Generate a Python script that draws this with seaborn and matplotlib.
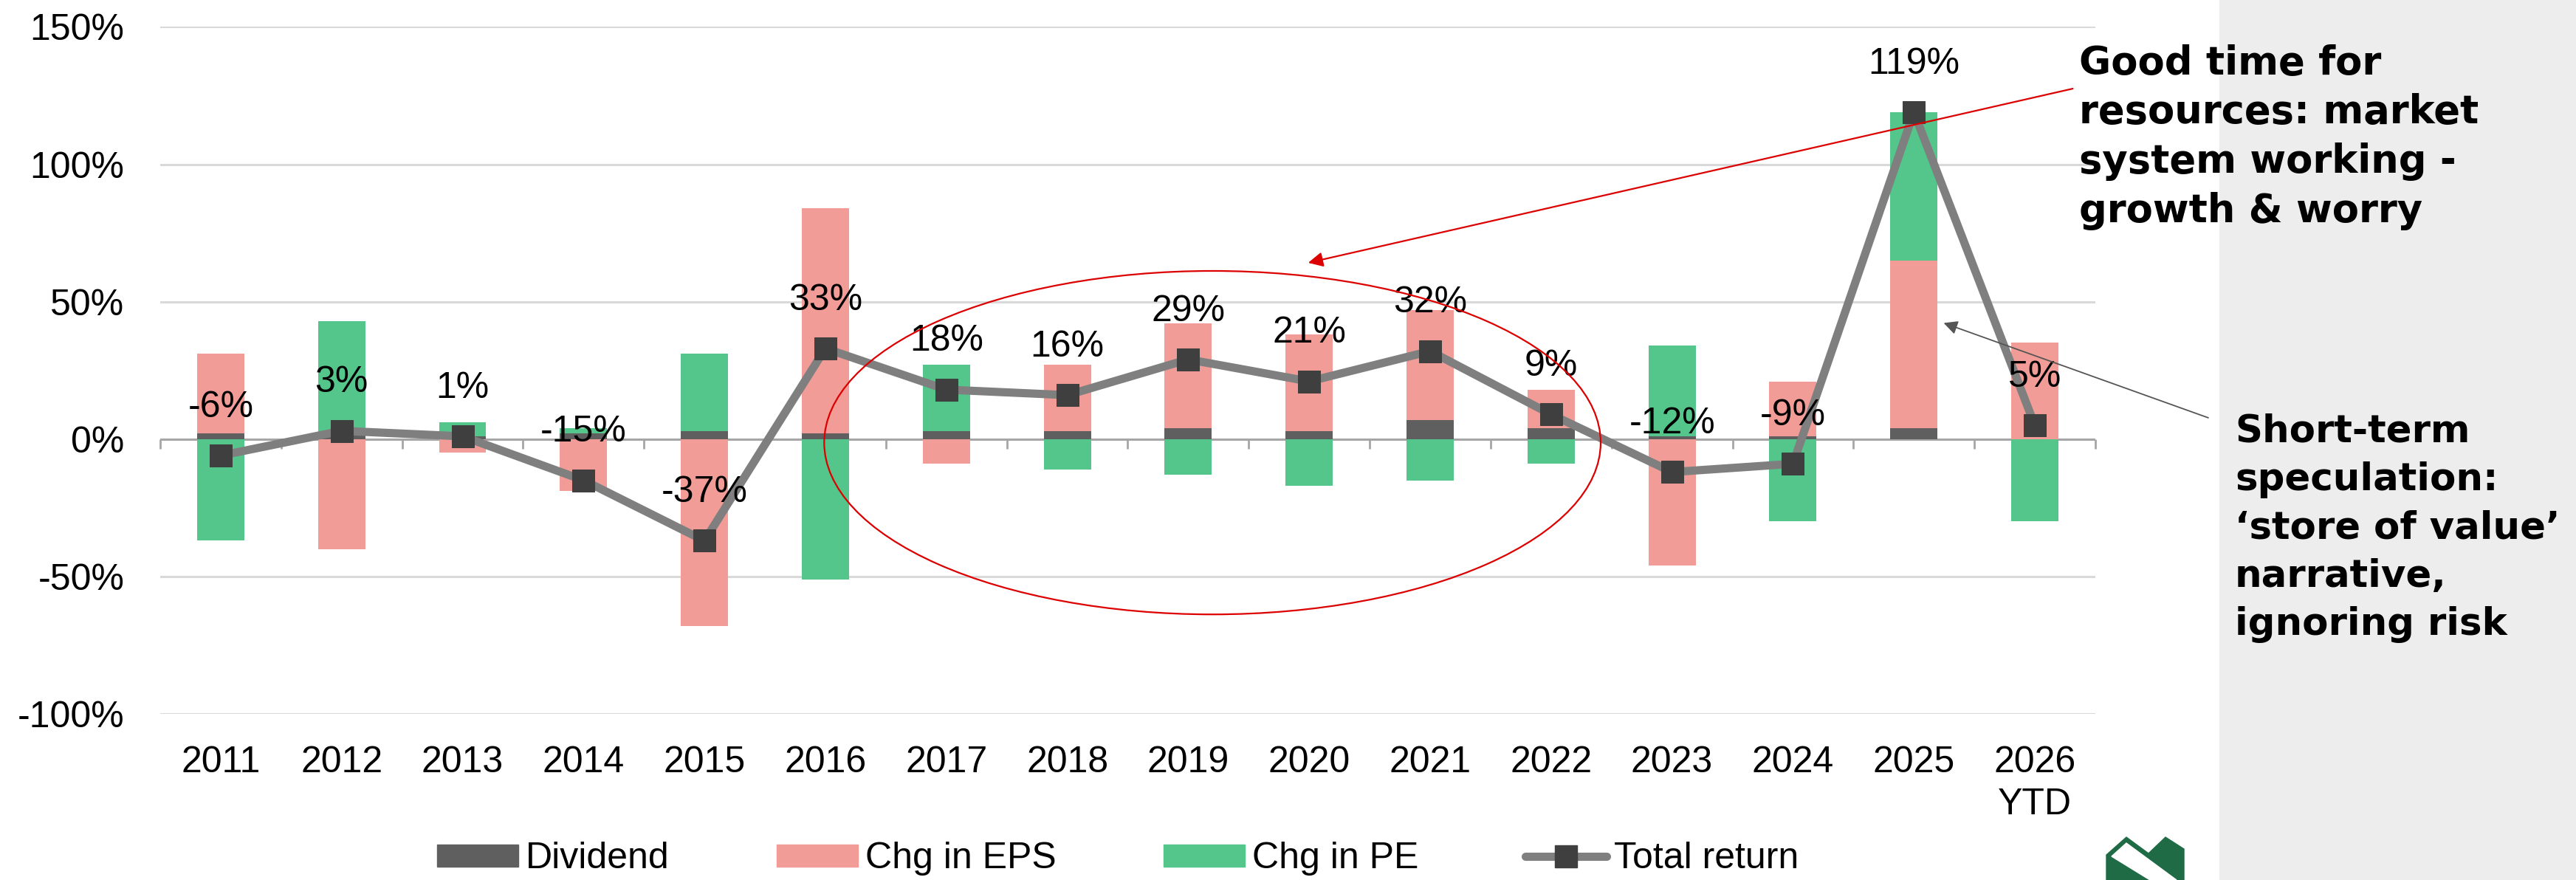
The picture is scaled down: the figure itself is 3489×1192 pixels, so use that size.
import numpy as np
import pandas as pd
import seaborn as sns
import matplotlib.pyplot as plt
from matplotlib.patches import Patch, Ellipse, Rectangle, Polygon
from matplotlib.lines import Line2D

# Data (percent)
years = ['2011', '2012', '2013', '2014', '2015', '2016', '2017', '2018',
         '2019', '2020', '2021', '2022', '2023', '2024', '2025', '2026\nYTD']
dividend = [2, 2, 1, 2, 3, 2, 3, 3, 4, 3, 7, 4, 1, 1, 4, 0]
chg_eps = [29, -40, -5, -19, -68, 82, -9, 24, 38, 35, 40, 14, -46, 20, 61, 35]
chg_pe = [-37, 41, 5, 2, 28, -51, 24, -11, -13, -17, -15, -9, 33, -30, 54, -30]
total_return = [-6, 3, 1, -15, -37, 33, 18, 16, 29, 21, 32, 9, -12, -9, 119, 5]
y_ticks = [-100, -50, 0, 50, 100, 150]

note_top = 'Good time for\nresources: market\nsystem working -\ngrowth & worry'
note_bottom = 'Short-term\nspeculation:\n\u2018store of value\u2019\nnarrative,\nignoring risk'

c_div = '#5f5f5f'
c_eps = '#f29c97'
c_pe = '#55c68b'
c_line = '#7f7f7f'
c_mark = '#3f3f3f'

sns.set_theme(style='white')
plt.rcParams['font.family'] = ['Liberation Sans', 'DejaVu Sans']
plt.rcParams['text.color'] = 'black'
plt.rcParams['xtick.labelcolor'] = 'black'
plt.rcParams['ytick.labelcolor'] = 'black'

df = pd.DataFrame({'year': years, 'Dividend': dividend, 'Chg in EPS': chg_eps,
                   'Chg in PE': chg_pe, 'Total return': total_return})
df['pos'] = np.arange(len(df))

fig = plt.figure(figsize=(34.89, 11.92), dpi=100)
# grey side panel
fig.patches.append(Rectangle((0.8616, 0), 0.1384, 1, transform=fig.transFigure,
                             color='#ededed', zorder=-10))
ax = fig.add_axes([0.0622, 0.1888, 0.7512, 0.7806])
ax.set_facecolor('none')

# stacked bars: positives stack up, negatives stack down
pos_base = np.zeros(len(df))
neg_base = np.zeros(len(df))
for col, colr in [('Dividend', c_div), ('Chg in EPS', c_eps), ('Chg in PE', c_pe)]:
    vals = df[col].to_numpy(dtype=float)
    base = np.where(vals >= 0, pos_base, neg_base)
    ax.bar(df['pos'], vals, bottom=base, width=0.39, color=colr, zorder=2, linewidth=0)
    pos_base = pos_base + np.clip(vals, 0, None)
    neg_base = neg_base + np.clip(vals, None, 0)

sns.lineplot(data=df, x='pos', y='Total return', ax=ax, color=c_line, linewidth=8,
             marker='s', markersize=22, markerfacecolor=c_mark, markeredgecolor=c_mark,
             zorder=4, legend=False)

for x, v in zip(df['pos'], df['Total return']):
    ax.annotate(f'{v}%', (x, v), xytext=(0, 47), textcoords='offset points',
                ha='center', va='center', fontsize=36, color='black', zorder=5)

# grid and zero axis
for t in y_ticks:
    if t != 0:
        ax.axhline(t, color='#d9d9d9', lw=2.2, zorder=0)
ax.axhline(0, color='#a6a6a6', lw=2.2, zorder=1)
ax.vlines(np.arange(-0.5, len(df), 1.0), -3.5, 0, color='#a6a6a6', lw=2, zorder=1,
          clip_on=False)

ax.set_xlim(-0.5, len(df) - 0.5)
ax.set_ylim(-100, 150)
ax.set_yticks(y_ticks)
ax.set_yticklabels([f'{t}%' for t in y_ticks])
ax.set_xticks(df['pos'])
ax.set_xticklabels(years, linespacing=1.3)
ax.tick_params(axis='y', length=0, pad=35, labelsize=36, labelcolor='black')
ax.tick_params(axis='x', length=0, pad=31, labelsize=36, labelcolor='black')
ax.set_xlabel('')
ax.set_ylabel('')
sns.despine(ax=ax, left=True, bottom=True)

# red circle + arrow, grey arrow
ax.add_patch(Ellipse((8.2, -1.3), 6.42, 125, fill=False, edgecolor='#dd0000',
                     lw=1.6, zorder=6, clip_on=False))
ax.annotate('', xy=(8.975, 64), xytext=(15.33, 127.7),
            arrowprops=dict(arrowstyle='-|>', color='#dd0000', lw=1.6,
                            mutation_scale=30), annotation_clip=False, zorder=6)
ax.annotate('', xy=(14.23, 42.5), xytext=(16.45, 7.5),
            arrowprops=dict(arrowstyle='-|>', color='#555555', lw=1.3,
                            mutation_scale=28), annotation_clip=False, zorder=6)

fig.text(0.8071, 0.950, note_top, ha='left', va='top', fontsize=38, color='black',
         fontweight='bold', family='DejaVu Sans', linespacing=1.36)
fig.text(0.8676, 0.531, note_bottom, ha='left', va='top', fontsize=37, color='black',
         fontweight='bold', family='DejaVu Sans', linespacing=1.40)

# small logo (pixel outline converted to figure fraction)
logo_px = np.array([[2853, 1158], [2880, 1134], [2910, 1156], [2933, 1134],
                    [2958, 1150], [2958, 1192], [2853, 1192]])
band_px = np.array([[2860, 1160], [2880, 1142], [2948, 1192], [2912, 1192]])
for pts, colr in [(logo_px, '#1f6b45'), (band_px, 'white')]:
    xy = np.column_stack([pts[:, 0] / 3489, 1 - pts[:, 1] / 1192])
    fig.patches.append(Polygon(xy, closed=True, color=colr, transform=fig.transFigure))

handles = [Patch(color=c_div), Patch(color=c_eps), Patch(color=c_pe),
           Line2D([0], [0], color=c_line, lw=8, marker='s', markersize=22,
                  markerfacecolor=c_mark, markeredgecolor=c_mark)]
labels = ['Dividend', 'Chg in EPS', 'Chg in PE', 'Total return']
fig.legend(handles, labels, loc='center', bbox_to_anchor=(0.434, 0.024), ncol=4,
           frameon=False, fontsize=36, handlelength=2.2, handleheight=0.55,
           handletextpad=0.2, columnspacing=2.9, labelcolor='black')

plt.savefig('out.png', dpi=100)
